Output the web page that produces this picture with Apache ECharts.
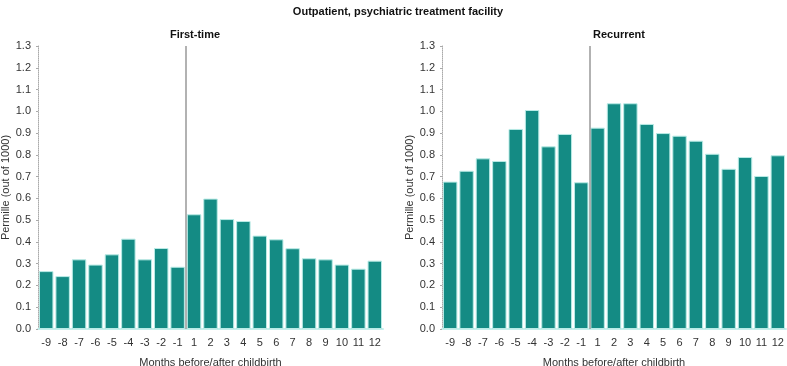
<!DOCTYPE html>
<html>
<head>
<meta charset="utf-8">
<script src="https://cdn.jsdelivr.net/npm/echarts@6/dist/echarts.min.js"></script>
<style>
  html, body { margin: 0; padding: 0; background: #fff; }
  #chart { width: 787px; height: 366px; }
</style>
</head>
<body>
<div id="chart"></div>
<script>
const months = ['-9', '-8', '-7', '-6', '-5', '-4', '-3', '-2', '-1', '1', '2', '3', '4', '5', '6', '7', '8', '9', '10', '11', '12']
const firstTime = [0.266, 0.243, 0.320, 0.296, 0.343, 0.415, 0.320, 0.372, 0.286, 0.527, 0.599, 0.505, 0.496, 0.429, 0.412, 0.371, 0.325, 0.320, 0.296, 0.277, 0.314]
const recurrent = [0.677, 0.727, 0.784, 0.772, 0.919, 1.006, 0.839, 0.896, 0.674, 0.925, 1.037, 1.037, 0.942, 0.900, 0.888, 0.865, 0.805, 0.736, 0.790, 0.703, 0.798]

const chart = echarts.init(document.getElementById('chart'))
const font = 'Liberation Sans, Arial, sans-serif'
const barColor = '#148b84'
// childbirth sits on the boundary before month "1"
const birthIndex = months.indexOf('1')

function makeX(gridIndex) {
  return {
    type: 'category',
    gridIndex: gridIndex,
    data: months,
    name: 'Months before/after childbirth',
    nameLocation: 'middle',
    nameGap: 28,
    nameTextStyle: { fontFamily: font, fontSize: 11, color: '#333' },
    axisLine: { lineStyle: { color: '#c6efec', width: 2 } },
    axisTick: { alignWithLabel: true, length: 3, lineStyle: { color: '#999' } },
    axisLabel: { fontFamily: font, fontSize: 11, color: '#333', margin: 8, interval: 0 },
    splitLine: { show: false }
  }
}

// hidden value axis spanning the same width, used only for the childbirth line
function makeHelperX(gridIndex) {
  return {
    type: 'value',
    gridIndex: gridIndex,
    min: 0,
    max: months.length,
    show: false
  }
}

function makeY(gridIndex) {
  return {
    type: 'value',
    gridIndex: gridIndex,
    min: 0,
    max: 1.3,
    interval: 0.1,
    name: 'Permille (out of 1000)',
    nameLocation: 'middle',
    nameGap: 24,
    nameTextStyle: { fontFamily: font, fontSize: 11, color: '#333' },
    axisLine: { show: true, lineStyle: { color: '#aaa', type: 'dotted' } },
    axisTick: { show: true, length: 2, lineStyle: { color: '#aaa' } },
    axisLabel: {
      fontFamily: font, fontSize: 11, color: '#333', margin: 7,
      formatter: function (v) { return v.toFixed(1) }
    },
    splitLine: { show: false }
  }
}

function makeBar(i, values) {
  return {
    type: 'bar',
    xAxisIndex: i,
    yAxisIndex: i,
    data: values,
    barCategoryGap: '12%',
    itemStyle: { color: barColor, borderColor: '#b9ebe6', borderWidth: 1 },
    silent: true
  }
}

function makeBirthLine(i) {
  return {
    type: 'line',
    xAxisIndex: i + 2,
    yAxisIndex: i,
    data: [],
    markLine: {
      silent: true,
      symbol: 'none',
      label: { show: false },
      lineStyle: { color: '#999', width: 1.5, type: 'solid' },
      data: [{ xAxis: birthIndex }]
    }
  }
}

const option = {
  animation: false,
  title: [
    {
      text: 'Outpatient, psychiatric treatment facility',
      left: 393, top: 1, textAlign: 'center',
      textStyle: { fontFamily: font, fontSize: 11, fontWeight: 'bold', color: '#111' }
    },
    {
      text: 'First-time',
      left: 190, top: 24, textAlign: 'center',
      textStyle: { fontFamily: font, fontSize: 11, fontWeight: 'bold', color: '#111' }
    },
    {
      text: 'Recurrent',
      left: 614, top: 24, textAlign: 'center',
      textStyle: { fontFamily: font, fontSize: 11, fontWeight: 'bold', color: '#111' }
    }
  ],
  grid: [
    { left: 38, right: 404, top: 46, bottom: 37, outerBoundsMode: 'none' },
    { left: 442, right: 1, top: 46, bottom: 37, outerBoundsMode: 'none' }
  ],
  xAxis: [makeX(0), makeX(1), makeHelperX(0), makeHelperX(1)],
  yAxis: [makeY(0), makeY(1)],
  series: [makeBar(0, firstTime), makeBar(1, recurrent), makeBirthLine(0), makeBirthLine(1)]
}

chart.setOption(option)
</script>
</body>
</html>
